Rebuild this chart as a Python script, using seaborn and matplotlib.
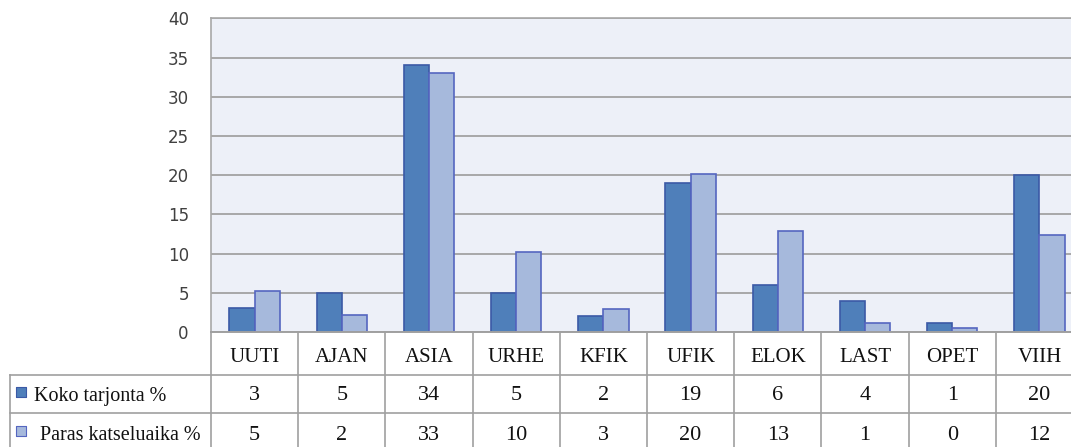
import numpy as np
import pandas as pd
import matplotlib.pyplot as plt
import seaborn as sns

categories = ['UUTI', 'AJAN', 'ASIA', 'URHE', 'KFIK', 'UFIK', 'ELOK', 'LAST', 'OPET', 'VIIH']
koko = [3.0, 5.0, 34.0, 5.0, 2.0, 19.0, 6.0, 4.0, 1.1, 20.0]
paras = [5.2, 2.2, 33.0, 10.2, 2.9, 20.2, 12.9, 1.1, 0.45, 12.4]
series = ['Koko tarjonta %', 'Paras katseluaika %']
fills = ['#4F7FBA', '#A6B9DC']
edges = ['#3B59A6', '#5566C0']

df = pd.DataFrame({
    'kanava': categories * 2,
    'osuus': koko + paras,
    'sarja': [series[0]] * len(categories) + [series[1]] * len(categories),
})

W, H = 1071, 447
fig = plt.figure(figsize=(W / 100, H / 100), dpi=100)

# plot area in pixels (right edge runs past the image, like the original)
x0, x1, ytop, ybot = 211, 1083, 18.4, 332
ax = fig.add_axes([x0 / W, (H - ybot) / H, (x1 - x0) / W, (ybot - ytop) / H])
ax.set_facecolor('#EDF0F8')

sns.barplot(data=df, x='kanava', y='osuus', hue='sarja', palette=fills,
            width=0.58, saturation=1, legend=False, ax=ax)
for cont, ec in zip(ax.containers, edges):
    for bar in cont:
        bar.set_edgecolor(ec)
        bar.set_linewidth(1.2)

ax.set_ylim(0, 40)
ax.set_yticks(range(0, 41, 5))
ax.set_xlim(-0.5, len(categories) - 0.5)
ax.grid(axis='y', color='#A8A8A8', linewidth=1.4)
ax.set_axisbelow(True)
ax.set_xlabel('')
ax.set_ylabel('')
ax.set_xticks([])
ax.tick_params(axis='y', length=0, pad=16, labelsize=12, labelcolor='#404040')
for s in ['right', 'bottom']:
    ax.spines[s].set_visible(False)
for s in ['left', 'top']:
    ax.spines[s].set_color('#A8A8A8')
    ax.spines[s].set_linewidth(1.2)

# data table below the plot
colw = (x1 - x0) / len(categories)
lx = 10
tax = fig.add_axes([lx / W, 0, (x1 - lx) / W, (H - ybot) / H])
left = -0.5 - (x0 - lx) / colw
tax.set_xlim(left, len(categories) - 0.5)
tax.set_ylim(H, ybot)
tax.axis('off')

def px(x):
    return left + (x - lx) / colw

gc = '#A0A0A0'
rows = [ybot, 375, 413]
tax.plot([-0.5, len(categories) - 0.5], [ybot, ybot], color=gc, lw=1.4, clip_on=False)
for r in rows[1:]:
    tax.plot([left, len(categories) - 0.5], [r, r], color=gc, lw=1.2, clip_on=False)
for i in range(len(categories) + 1):
    tax.plot([i - 0.5, i - 0.5], [ybot, H + 5], color=gc, lw=1.2, clip_on=False)
tax.plot([left, left], [rows[1], H + 5], color=gc, lw=1.2, clip_on=False)

serif = 'Liberation Serif'
ycat, y1, y2 = 357, 396, 435
for i, c in enumerate(categories):
    tax.text(i, ycat, c, family=serif, size=15, color='#111111', ha='center', va='center')
    tax.text(i, y1, f'{koko[i]:.0f}', family=serif, size=16, color='#111111', ha='center', va='center')
    tax.text(i, y2, f'{paras[i]:.0f}', family=serif, size=16, color='#111111', ha='center', va='center')

for yy, my, name, fc, ec, tx in zip([y1, y2], [392, 431], series, fills, edges, [34, 40]):
    tax.scatter([px(21)], [my], marker='s', s=48, color=fc, edgecolor=ec, linewidth=0.8, clip_on=False)
    tax.text(px(tx), yy, name, family=serif, size=14.5, color='#111111',
             ha='left', va='center')

fig.savefig('out.png', dpi=100)
